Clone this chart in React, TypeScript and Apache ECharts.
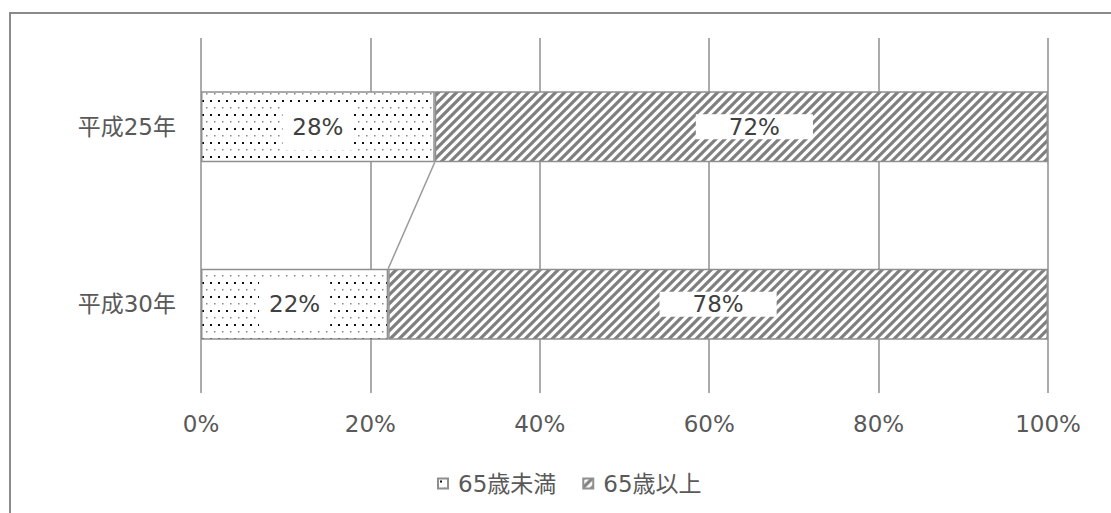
import React, { useEffect, useRef } from "react";
import * as echarts from "echarts";

const categories = ["平成25年", "平成30年"];
const seriesNames = ["65歳未満", "65歳以上"];
const under65 = [27.6, 22.1];
const over65 = [72.4, 77.9];
const xTicks = [0, 20, 40, 60, 80, 100];

const TEXT = "#595959";
const GRID = "#8f8f8f";
const FONT = "'DejaVu Sans', 'Noto Sans CJK JP', sans-serif";

function dotPattern(): HTMLCanvasElement {
  const c = document.createElement("canvas");
  c.width = 8;
  c.height = 14;
  const g = c.getContext("2d")!;
  g.fillStyle = "#ffffff";
  g.fillRect(0, 0, 8, 14);
  g.fillStyle = "#111111";
  g.fillRect(2, 2, 2, 2);
  g.fillStyle = "#888888";
  g.fillRect(6, 9, 1.5, 1.5);
  return c;
}

function hatchPattern(): HTMLCanvasElement {
  const n = 9;
  const c = document.createElement("canvas");
  c.width = n;
  c.height = n;
  const g = c.getContext("2d")!;
  g.fillStyle = "#ffffff";
  g.fillRect(0, 0, n, n);
  g.strokeStyle = "#7f7f7f";
  g.lineWidth = 3.2;
  g.beginPath();
  g.moveTo(-1, n + 1);
  g.lineTo(n + 1, -1);
  g.moveTo(-2, 2);
  g.lineTo(2, -2);
  g.moveTo(n - 2, n + 2);
  g.lineTo(n + 2, n - 2);
  g.stroke();
  return c;
}

export default function App() {
  const ref = useRef<HTMLDivElement>(null);
  useEffect(() => {
    if (!ref.current) return;
    const chart = echarts.init(ref.current, null, { renderer: "svg" });
    const dots = { image: dotPattern(), repeat: "repeat" } as any;
    const hatch = { image: hatchPattern(), repeat: "repeat" } as any;
    const labelOffsets = [[13, 0], [0, 0]];
    chart.setOption({
      animation: false,
      textStyle: { fontFamily: FONT },
      graphic: [
        {
          type: "rect",
          shape: { x: 10, y: 13, width: 1300, height: 700 },
          style: { fill: "none", stroke: "#8a8a8a", lineWidth: 2 },
          silent: true,
        },
      ],
      grid: { left: 201, right: 63, top: 38, bottom: 120 },
      legend: {
        bottom: 13,
        left: 432,
        itemWidth: 10,
        itemHeight: 10,
        itemGap: 26,
        icon: "rect",
        data: seriesNames,
        textStyle: { color: TEXT, fontSize: 23, fontFamily: FONT, padding: [0, 0, 0, 5] },
      },
      xAxis: {
        type: "value",
        min: 0,
        max: 100,
        interval: 20,
        axisLine: { show: false },
        axisTick: { show: false },
        splitLine: { show: true, lineStyle: { color: GRID, width: 1.5 } },
        axisLabel: {
          color: TEXT,
          fontSize: 23,
          margin: 19,
          fontFamily: FONT,
          formatter: (v: number) => (xTicks.includes(v) ? v + "%" : ""),
        },
      },
      yAxis: {
        type: "category",
        inverse: true,
        data: categories,
        axisLine: { show: false },
        axisTick: { show: false },
        splitLine: { show: false },
        axisLabel: { color: TEXT, fontSize: 23, margin: 25, fontFamily: FONT },
      },
      series: [
        {
          name: seriesNames[0],
          type: "bar",
          stack: "total",
          barWidth: "40%",
          data: under65,
          itemStyle: { color: dots, borderColor: GRID, borderWidth: 1.5 },
          label: {
            show: true,
            position: "inside",
            formatter: (p: any) => Math.round(p.value) + "%",
            color: "#404040",
            fontSize: 23,
            fontFamily: FONT,
            backgroundColor: "#ffffff",
            padding: [12, 10],
          },
        },
        {
          name: seriesNames[1],
          type: "bar",
          stack: "total",
          barWidth: "40%",
          data: over65.map((v, i) => ({ value: v, label: { offset: labelOffsets[i] } })),
          itemStyle: { color: hatch, borderColor: GRID, borderWidth: 1.5 },
          label: {
            show: true,
            position: "inside",
            formatter: (p: any) => Math.round(p.value) + "%",
            color: "#404040",
            fontSize: 23,
            fontFamily: FONT,
            backgroundColor: "#ffffff",
            padding: [1, 33],
          },
        },
        {
          type: "custom",
          silent: true,
          encode: { x: [0, 2], y: [1, 3] },
          data: [[under65[0], 0, under65[1], 1]],
          renderItem: (params: any, api: any) => {
            const p0 = api.coord([api.value(0), api.value(1)]);
            const p1 = api.coord([api.value(2), api.value(3)]);
            const band = api.size([0, 1])[1];
            const h = (band * 0.4) / 2;
            return {
              type: "line",
              shape: { x1: p0[0], y1: p0[1] + h, x2: p1[0], y2: p1[1] - h },
              style: { stroke: "#9a9a9a", lineWidth: 1.5 },
            };
          },
        },
      ],
    });
    return () => chart.dispose();
  }, []);
  return (
    <div
      ref={ref}
      style={{ position: "absolute", left: 0, top: 0, width: 1111, height: 513, background: "#fff" }}
    />
  );
}
